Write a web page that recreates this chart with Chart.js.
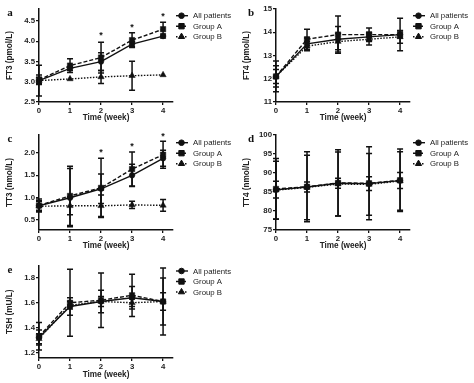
<!DOCTYPE html>
<html><head><meta charset="utf-8">
<script src="https://cdn.jsdelivr.net/npm/chart.js@4/dist/chart.umd.min.js"></script>
<style>
html,body{margin:0;padding:0;background:#fff;}
#wrap{position:relative;width:474px;height:383px;overflow:hidden;}
.p{position:absolute;}
</style></head>
<body><div id="wrap">
<div class="p" style="left:0;top:0"><canvas id="ca" width="237" height="128"></canvas></div>
<div class="p" style="left:237px;top:0"><canvas id="cb" width="237" height="128"></canvas></div>
<div class="p" style="left:0;top:128px"><canvas id="cc" width="237" height="127"></canvas></div>
<div class="p" style="left:237px;top:128px"><canvas id="cd" width="237" height="127"></canvas></div>
<div class="p" style="left:0;top:255px"><canvas id="ce" width="237" height="128"></canvas></div>
</div>
<script>
// ---------- DATA ----------
const weeks = [0, 1, 2, 3, 4];
const seriesNames = ['All patients', 'Group A', 'Group B'];
const xTitle = 'Time (week)';

// a: FT3
const ft3All  = [3.03, 3.33, 3.50, 3.93, 4.13];
const ft3AllE = [0.08, 0.05, 0.22, 0.06, 0.05];
const ft3A    = [3.05, 3.40, 3.60, 4.03, 4.30];
const ft3AE   = [0.12, 0.17, 0.38, 0.18, 0.17];
const ft3B    = [3.03, 3.07, 3.12, 3.15, 3.17];
const ft3BE   = [0.38, 0.00, 0.16, 0.36, 0.00];
const ft3SigWeeks = [2, 3, 4];
const ft3SigY     = [4.21, 4.40, 4.67];

// b: FT4
const ft4All  = [12.1, 13.5, 13.7, 13.8, 13.9];
const ft4AllE = [0.46, 0.25, 0.55, 0.20, 0.15];
const ft4A    = [12.1, 13.7, 13.9, 13.9, 13.9];
const ft4AE   = [0.66, 0.43, 0.80, 0.28, 0.70];
const ft4B    = [12.1, 13.4, 13.6, 13.7, 13.8];
const ft4BE   = [0.30, 0.20, 0.35, 0.25, 0.27];

// c: TT3
const tt3All  = [0.82, 1.00, 1.20, 1.50, 1.88];
const tt3AllE = [0.10, 0.65, 0.33, 0.25, 0.18];
const tt3A    = [0.83, 1.04, 1.22, 1.64, 1.96];
const tt3AE   = [0.14, 0.66, 0.66, 0.38, 0.30];
const tt3B    = [0.81, 0.82, 0.82, 0.84, 0.83];
const tt3BE   = [0.12, 0.20, 0.24, 0.08, 0.13];
const tt3SigWeeks = [2, 3, 4];
const tt3SigY     = [2.07, 2.19, 2.43];

// d: TT4
const tt4All  = [85.6, 86.3, 87.3, 87.2, 88.0];
const tt4AllE = [2.2, 1.3, 1.3, 1.8, 2.1];
const tt4A    = [85.8, 86.4, 87.4, 87.3, 88.1];
const tt4AE   = [8.0, 9.2, 8.7, 9.6, 8.2];
const tt4B    = [85.5, 86.2, 87.1, 87.0, 87.9];
const tt4BE   = [7.6, 8.5, 8.4, 8.1, 7.7];

// e: TSH
const tshAll  = [1.32, 1.57, 1.61, 1.64, 1.61];
const tshAllE = [0.06, 0.07, 0.09, 0.09, 0.07];
const tshA    = [1.33, 1.60, 1.62, 1.66, 1.61];
const tshAE   = [0.11, 0.27, 0.22, 0.17, 0.27];
const tshB    = [1.31, 1.58, 1.61, 1.60, 1.61];
const tshBE   = [0.04, 0.03, 0.04, 0.03, 0.19];

// ---------- RENDER ----------
const INK = '#111';
const styles = [
  {pointStyle: 'circle',   radius: 2.8, dash: []},
  {pointStyle: 'rect',     radius: 3.8, dash: [4, 2]},
  {pointStyle: 'triangle', radius: 3.6, dash: [1.5, 1.5]}
];

function drawMarker(ctx, style, r, x, y) {
  const h = Chart.helpers;
  ctx.save();
  ctx.fillStyle = INK; ctx.strokeStyle = INK; ctx.lineWidth = 1; ctx.setLineDash([]);
  if (h && h.drawPoint) {
    h.drawPoint(ctx, {pointStyle: style, radius: r, rotation: 0, borderWidth: 1}, x, y);
  }
  ctx.restore();
}

const errorBarPlugin = {
  id: 'errbars',
  afterDatasetsDraw(chart) {
    const ctx = chart.ctx, ys = chart.scales.y, xs = chart.scales.x;
    ctx.save();
    ctx.strokeStyle = INK; ctx.lineWidth = 1.5; ctx.setLineDash([]);
    chart.data.datasets.forEach(ds => {
      ds.data.forEach((p, i) => {
        const e = ds.errors[i];
        if (!e) return;
        const px = xs.getPixelForValue(p.x);
        const y1 = ys.getPixelForValue(p.y + e), y2 = ys.getPixelForValue(p.y - e);
        ctx.beginPath();
        ctx.moveTo(px, y1); ctx.lineTo(px, y2);
        ctx.moveTo(px - 3, y1); ctx.lineTo(px + 3, y1);
        ctx.moveTo(px - 3, y2); ctx.lineTo(px + 3, y2);
        ctx.stroke();
      });
    });
    ctx.restore();
  }
};

const extrasPlugin = {
  id: 'extras',
  afterDraw(chart) {
    const o = chart.options.plugins.extras;
    const ctx = chart.ctx, ys = chart.scales.y, xs = chart.scales.x;
    ctx.save();
    if (o.sigWeeks) {
      ctx.fillStyle = INK; ctx.font = 'bold 9px "Liberation Sans", Arial, sans-serif';
      ctx.textAlign = 'center'; ctx.textBaseline = 'alphabetic';
      o.sigWeeks.forEach((w, i) => {
        ctx.fillText('*', xs.getPixelForValue(w), ys.getPixelForValue(o.sigY[i]) + 5);
      });
    }
    ctx.fillStyle = INK; ctx.font = 'bold 11px "Liberation Serif", "Times New Roman", serif';
    ctx.textAlign = 'center'; ctx.textBaseline = 'middle';
    ctx.fillText(o.letter, o.letterX, o.letterY);
    ctx.font = '7.8px "Liberation Sans", Arial, sans-serif';
    ctx.textAlign = 'left'; ctx.textBaseline = 'middle';
    chart.data.datasets.forEach((ds, i) => {
      const y = o.legendY + i * 10.5;
      const st = styles[i];
      ctx.strokeStyle = INK; ctx.lineWidth = 1.4; ctx.setLineDash(st.dash);
      ctx.beginPath(); ctx.moveTo(176, y); ctx.lineTo(188, y); ctx.stroke();
      drawMarker(ctx, st.pointStyle, st.radius, 181.5, y);
      ctx.fillStyle = '#222';
      ctx.fillText(ds.label, 193, y + 0.5);
    });
    ctx.restore();
  }
};

function makeChart(id, cfg) {
  const series = [[cfg.all, cfg.allE], [cfg.a, cfg.aE], [cfg.b, cfg.bE]];
  const datasets = series.map((s, i) => ({
    label: seriesNames[i],
    data: weeks.map((w, j) => ({x: w, y: s[0][j]})),
    errors: s[1],
    borderColor: INK, backgroundColor: INK,
    borderWidth: 1.4, borderDash: styles[i].dash,
    pointStyle: styles[i].pointStyle, pointRadius: styles[i].radius,
    pointBackgroundColor: INK, pointBorderColor: INK, pointBorderWidth: 0.5,
    tension: 0, clip: false, fill: false, order: 2 - i
  }));
  const H = document.getElementById(id).height;
  const tickFont = {family: '"Liberation Sans", Arial, sans-serif', size: 7.8, weight: 'bold'};
  const titleFont = {family: '"Liberation Sans", Arial, sans-serif', size: 8.2, weight: 'bold'};
  return new Chart(document.getElementById(id), {
    type: 'line',
    data: {datasets},
    options: {
      responsive: false, animation: false, devicePixelRatio: 1,
      layout: {padding: {top: cfg.top, left: 0, right: 237 - 173, bottom: 0}},
      plugins: {
        legend: {display: false}, tooltip: {enabled: false},
        extras: {letter: cfg.letter, letterX: cfg.letterX, letterY: cfg.letterY,
                 legendY: cfg.legendY, sigWeeks: cfg.sigWeeks, sigY: cfg.sigY}
      },
      scales: {
        x: {
          type: 'linear', min: 0, max: 4.32,
          afterFit: s => { s.height = H - cfg.bottom; },
          ticks: {stepSize: 1, includeBounds: false, color: '#222', font: tickFont, padding: 1, maxRotation: 0},
          grid: {display: true, drawOnChartArea: false, drawTicks: true, tickLength: 3, color: INK, lineWidth: 1.3},
          border: {display: true, color: INK, width: 1.5},
          title: {display: true, text: xTitle, color: '#222', font: titleFont, padding: {top: 0, bottom: cfg.xtPad}}
        },
        y: {
          type: 'linear', min: cfg.min, max: cfg.max,
          afterFit: s => { s.width = 39; },
          ticks: {stepSize: cfg.step, includeBounds: false, color: '#222', font: tickFont, padding: 1,
                  callback: v => Number(v).toFixed(cfg.dec)},
          grid: {display: true, drawOnChartArea: false, drawTicks: true, tickLength: 3, color: INK, lineWidth: 1.3},
          border: {display: true, color: INK, width: 1.5},
          title: {display: true, text: cfg.yTitle, color: '#222', font: titleFont, padding: {top: 5, bottom: 0}}
        }
      }
    },
    plugins: [errorBarPlugin, extrasPlugin]
  });
}

makeChart('ca', {all: ft3All, allE: ft3AllE, a: ft3A, aE: ft3AE, b: ft3B, bE: ft3BE,
  yTitle: 'FT3 (pmol/L)', min: 2.5, max: 4.8, step: 0.5, dec: 1, top: 9, bottom: 102, xtPad: 5.5,
  letter: 'a', letterX: 10, letterY: 13, legendY: 15.7, sigWeeks: ft3SigWeeks, sigY: ft3SigY});
makeChart('cb', {all: ft4All, allE: ft4AllE, a: ft4A, aE: ft4AE, b: ft4B, bE: ft4BE,
  yTitle: 'FT4 (pmol/L)', min: 11, max: 15, step: 1, dec: 0, top: 9, bottom: 102, xtPad: 5.5,
  letter: 'b', letterX: 14, letterY: 13, legendY: 15.7});
makeChart('cc', {all: tt3All, allE: tt3AllE, a: tt3A, aE: tt3AE, b: tt3B, bE: tt3BE,
  yTitle: 'TT3 (nmol/L)', min: 0.28, max: 2.4, step: 0.5, dec: 1, top: 7, bottom: 102, xtPad: 4.5,
  letter: 'c', letterX: 10, letterY: 11, legendY: 14.7, sigWeeks: tt3SigWeeks, sigY: tt3SigY});
makeChart('cd', {all: tt4All, allE: tt4AllE, a: tt4A, aE: tt4AE, b: tt4B, bE: tt4BE,
  yTitle: 'TT4 (nmol/L)', min: 75, max: 100, step: 5, dec: 0, top: 7, bottom: 102, xtPad: 4.5,
  letter: 'd', letterX: 14, letterY: 11, legendY: 14.7});
makeChart('ce', {all: tshAll, allE: tshAllE, a: tshA, aE: tshAE, b: tshB, bE: tshBE,
  yTitle: 'TSH (mU/L)', min: 1.155, max: 1.9, step: 0.2, dec: 1, top: 10.5, bottom: 103, xtPad: 3.5,
  letter: 'e', letterX: 10, letterY: 15, legendY: 16});
</script>
</body></html>
